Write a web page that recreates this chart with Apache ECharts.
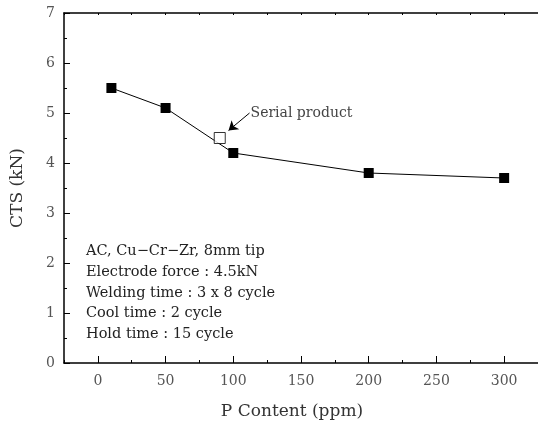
<!DOCTYPE html>
<html>
<head>
<meta charset="utf-8">
<script src="https://cdn.jsdelivr.net/npm/echarts@6/dist/echarts.min.js"></script>
<style>
  html, body { margin: 0; padding: 0; background: #fff; }
  #chart { width: 538px; height: 426px; }
</style>
</head>
<body>
<div id="chart"></div>
<script>
// P content (ppm) vs CTS (kN)
const pContent = [10, 50, 100, 200, 300];
const cts = [5.5, 5.1, 4.2, 3.8, 3.7];

// serial product, drawn as an open square
const serialP = [90];
const serialCts = [4.5];

// arrow pointing at the serial product: [from, to] in data coords
const arrowFrom = [112, 5.0];
const arrowTo = [96.5, 4.65];

const xMajor = [0, 50, 100, 150, 200, 250, 300];
const xMinor = [-25, 25, 75, 125, 175, 225, 275, 325];
const xAll = [-25, 0, 25, 50, 75, 100, 125, 150, 175, 200, 225, 250, 275, 300, 325];

const notes = [
  'AC, Cu\u2212Cr\u2212Zr, 8mm tip',
  'Electrode force : 4.5kN',
  'Welding time : 3 x 8 cycle',
  'Cool time : 2 cycle',
  'Hold time : 15 cycle'
];

const serif = '"DejaVu Serif", "Liberation Serif", serif';
const chart = echarts.init(document.getElementById('chart'));

const baseX = {
  type: 'value',
  min: -25,
  max: 325,
  splitLine: { show: false },
  axisLine: { onZero: false, lineStyle: { color: '#000', width: 1.5 } }
};

const option = {
  backgroundColor: '#fff',
  animation: false,
  grid: { left: 64, top: 13, right: -4, bottom: 63 },
  xAxis: [
    Object.assign({}, baseX, {
      position: 'bottom',
      name: 'P Content (ppm)',
      nameLocation: 'middle',
      nameGap: 40,
      nameTextStyle: { fontFamily: serif, fontSize: 17, color: '#333', padding: [0, 18, 0, 0] },
      axisTick: { inside: true, length: 7, customValues: xMajor, lineStyle: { color: '#000' } },
      axisLabel: { customValues: xMajor, fontFamily: serif, fontSize: 14, color: '#555', margin: 11 }
    }),
    Object.assign({}, baseX, {
      position: 'bottom',
      axisLine: { show: false, onZero: false },
      axisTick: { inside: true, length: 3, customValues: xMinor, lineStyle: { color: '#000' } },
      axisLabel: { show: false }
    }),
    Object.assign({}, baseX, {
      position: 'top',
      axisTick: { inside: true, length: 2, customValues: xAll, lineStyle: { color: '#000' } },
      axisLabel: { show: false }
    })
  ],
  yAxis: {
    type: 'value',
    position: 'left',
    min: 0,
    max: 7,
    interval: 1,
    name: 'CTS (kN)',
    nameLocation: 'middle',
    nameGap: 38,
    nameTextStyle: { fontFamily: serif, fontSize: 17, color: '#333' },
    splitLine: { show: false },
    axisLine: { onZero: false, lineStyle: { color: '#000', width: 1.5 } },
    axisTick: { inside: true, length: 6, lineStyle: { color: '#000' } },
    minorTick: { show: true, splitNumber: 2, length: 3, lineStyle: { color: '#000' } },
    axisLabel: { fontFamily: serif, fontSize: 14, color: '#555', margin: 9 }
  },
  graphic: [{
    type: 'text',
    left: 86,
    top: 241,
    style: {
      text: notes.join('\n'),
      font: '14.5px ' + serif,
      fill: '#222',
      lineHeight: 20.7
    }
  }],
  series: [
    {
      type: 'line',
      data: pContent.map((p, i) => [p, cts[i]]),
      symbol: 'rect',
      symbolSize: 10,
      itemStyle: { color: '#000' },
      lineStyle: { color: '#000', width: 1 }
    },
    {
      type: 'scatter',
      data: serialP.map((p, i) => [p, serialCts[i]]),
      symbol: 'rect',
      symbolSize: 11,
      z: 3,
      itemStyle: { color: '#fff', borderColor: '#000', borderWidth: 1 },
      markLine: {
        silent: true,
        symbol: ['none', 'arrow'],
        symbolSize: 9,
        label: { show: false },
        lineStyle: { color: '#000', width: 1, type: 'solid' },
        data: [[{ coord: arrowFrom }, { coord: arrowTo }]]
      },
      markPoint: {
        silent: true,
        symbol: 'circle',
        symbolSize: 0,
        label: {
          show: true,
          position: 'right',
          distance: 1,
          formatter: 'Serial product',
          fontFamily: serif,
          fontSize: 14,
          color: '#444'
        },
        data: [{ coord: arrowFrom }]
      }
    }
  ]
};

chart.setOption(option);
</script>
</body>
</html>
